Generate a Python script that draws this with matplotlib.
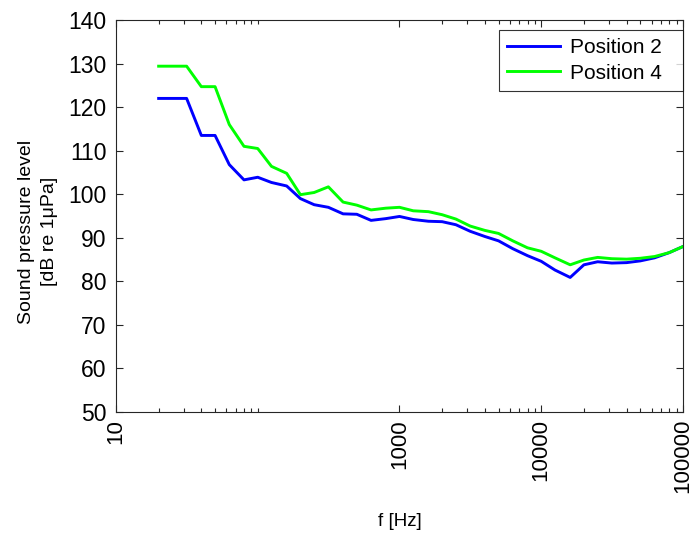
import matplotlib
matplotlib.use("Agg")
import matplotlib.pyplot as plt
from matplotlib.ticker import FixedLocator, NullFormatter

plt.rcParams['font.family'] = ['Liberation Sans', 'DejaVu Sans']

# One-third octave band centre frequencies [Hz]
freq_hz = [20, 25, 31.5, 40, 50, 63, 80, 100, 125, 160, 200, 250, 315, 400,
           500, 630, 800, 1000, 1250, 1600, 2000, 2500, 3150, 4000, 5000,
           6300, 8000, 10000, 12500, 16000, 20000, 25000, 31500, 40000,
           50000, 63000, 80000, 100000]

# Sound pressure level per band [dB re 1 uPa]
spl_position2 = [122.0, 122.0, 122.0, 113.5, 113.5, 106.8, 103.3, 103.9, 102.7,
                 101.9, 99.0, 97.6, 97.0, 95.5, 95.4, 94.0, 94.4, 94.9, 94.2,
                 93.8, 93.7, 93.0, 91.5, 90.3, 89.3, 87.5, 85.9, 84.6, 82.6,
                 80.9, 83.8, 84.5, 84.2, 84.3, 84.7, 85.4, 86.6, 88.0]
spl_position4 = [129.4, 129.4, 129.4, 124.7, 124.7, 116.0, 111.0, 110.5, 106.4,
                 104.8, 99.9, 100.4, 101.7, 98.2, 97.5, 96.4, 96.8, 97.0, 96.2,
                 96.0, 95.3, 94.3, 92.7, 91.7, 91.0, 89.3, 87.7, 86.9, 85.4,
                 83.8, 84.9, 85.5, 85.2, 85.1, 85.3, 85.7, 86.6, 88.0]

series_labels = ["Position 2", "Position 4"]
series_colors = ["#0000ff", "#00ff00"]

x_major = [10, 1000, 10000, 100000]
x_major_labels = ["10", "1000", "10000", "100000"]
x_minor = [20, 30, 40, 50, 60, 70, 80, 90, 100,
           2000, 3000, 4000, 5000, 6000, 7000, 8000, 9000,
           20000, 30000, 40000, 50000, 60000, 70000, 80000, 90000]
y_ticks = [50, 60, 70, 80, 90, 100, 110, 120, 130, 140]

fig = plt.figure(figsize=(6.92, 5.41), dpi=100)
ax = fig.add_axes([0.1676, 0.2384, 0.8194, 0.7246])

for vals, lab, col in zip([spl_position2, spl_position4], series_labels, series_colors):
    ax.plot(freq_hz, vals, color=col, linewidth=2.1, label=lab)

ax.set_xscale('log')
ax.set_xlim(10, 100000)
ax.set_ylim(50, 140)

ax.xaxis.set_major_locator(FixedLocator(x_major))
ax.set_xticklabels(x_major_labels, rotation=90)
ax.xaxis.set_minor_locator(FixedLocator(x_minor))
ax.xaxis.set_minor_formatter(NullFormatter())
ax.set_yticks(y_ticks)

ax.tick_params(axis='both', which='both', direction='in', top=True, right=True,
               labelsize=16, colors='#262626', labelcolor='black')
ax.tick_params(axis='y', which='major', length=5, width=0.8, pad=7)
ax.tick_params(axis='x', which='major', length=5, width=0.8, pad=5)
ax.tick_params(axis='x', which='minor', length=3, width=0.8)
for lbl in ax.get_yticklabels():
    lbl.set_fontsize(16.5)

for sp in ax.spines.values():
    sp.set_color('#262626')
    sp.set_linewidth(0.8)

ax.set_xlabel("f [Hz]", fontsize=13.5)
ax.xaxis.label.set_va('center')
ax.xaxis.set_label_coords(0.5, -0.278)

ax.set_ylabel("Sound pressure level\n[dB re 1μPa]", fontsize=14, linespacing=1.45)
ax.yaxis.label.set_va('center')
ax.yaxis.set_label_coords(-0.137, 0.46)

leg = ax.legend(loc='upper left', bbox_to_anchor=(0.6755, 0.0, 0.3245, 0.9745),
                mode='expand', fontsize=15, frameon=True, fancybox=False,
                edgecolor='black', handlelength=2.55, borderpad=0.4,
                labelspacing=0.3, handletextpad=0.45, borderaxespad=0.0)
leg.get_frame().set_linewidth(0.8)

fig.savefig("out.png", dpi=100, facecolor='white')
